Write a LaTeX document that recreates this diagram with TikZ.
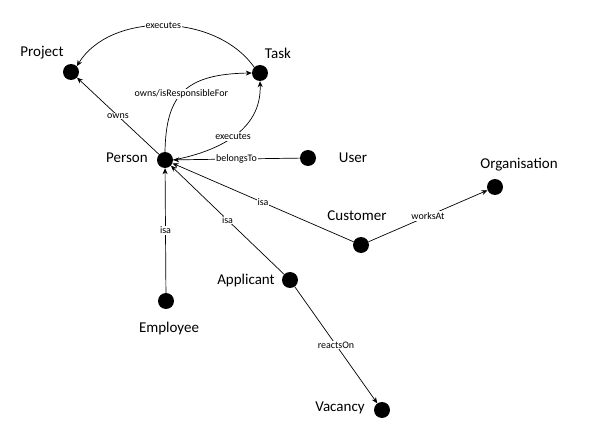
\documentclass[tikz,border=0pt]{standalone}
\usepackage{fontspec}
\setmainfont{Carlito}
\usetikzlibrary{arrows.meta}
\begin{document}
\begin{tikzpicture}[x=1pt,y=-1pt,
  dot/.style={circle,fill=black,inner sep=0pt,minimum size=16pt},
  lbl/.style={font=\fontsize{15}{17}\selectfont,inner sep=0pt},
  elbl/.style={font=\fontsize{10}{11}\selectfont,fill=white,inner sep=1pt},
  conn/.style={-{Stealth[length=6pt,width=5pt]},line width=0.7pt}]
\useasboundingbox[fill=white] (0,0) rectangle (598,428);
% dots
\node[dot] (project) at (71,72) {};
\node[dot] (task) at (260,73) {};
\node[dot] (person) at (165,160) {};
\node[dot] (user) at (308,158) {};
\node[dot] (org) at (495,187) {};
\node[dot] (customer) at (361,245) {};
\node[dot] (applicant) at (290,280) {};
\node[dot] (employee) at (166,301) {};
\node[dot] (vacancy) at (382,410) {};
% labels
\node[lbl] (tproject) at (42,53) {Project};
\node[lbl] (ttask) at (278,53) {Task};
\node[lbl] (tperson) at (127,158) {Person};
\node[lbl] (tuser) at (353,158) {User};
\node[lbl] (torg) at (519,165) {Organisation};
\node[lbl] (tcustomer) at (357,216) {Customer};
\node[lbl] (tapplicant) at (246,281) {Applicant};
\node[lbl] (temployee) at (169,329) {Employee};
\node[lbl] (tvacancy) at (340,408) {Vacancy};
% edges
\draw[conn] (task.north west) .. controls (215,12) and (110,12) .. node[elbl,pos=0.5]{executes} (project.north east);
\draw[conn] (person) -- node[elbl,pos=0.5]{owns} (project);
\draw[conn] (person.north) .. controls (166,95) and (185,74) .. node[elbl,pos=0.47]{owns/isResponsibleFor} (task.west);
\draw[conn] (person.east) .. controls (215,152) and (262,132) .. node[elbl,pos=0.5]{executes} (task.south);
\draw[conn] (user) -- node[elbl,pos=0.5]{belongsTo} (person);
\draw[conn] (customer) -- node[elbl,pos=0.5]{isa} (person);
\draw[conn] (applicant) -- node[elbl,pos=0.5]{isa} (person);
\draw[conn] (employee) -- node[elbl,pos=0.5]{isa} (person);
\draw[conn] (customer) -- node[elbl,pos=0.5]{worksAt} (org);
\draw[conn] (applicant) -- node[elbl,pos=0.5]{reactsOn} (vacancy);
\end{tikzpicture}
\end{document}
